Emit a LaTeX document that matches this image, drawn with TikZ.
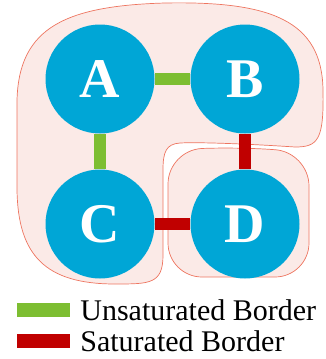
\documentclass[tikz,border=0pt]{standalone}
\usepackage{fontspec}
\setmainfont{Liberation Serif}
\usepackage{xcolor}
\usepackage{tikz}
\usetikzlibrary{positioning}

\definecolor{vertexblue}{HTML}{00A6D6}
\definecolor{unsatgreen}{HTML}{7DBE32}
\definecolor{satred}{HTML}{C00000}
\definecolor{regionfill}{HTML}{FBEAE7}
\definecolor{regionline}{HTML}{EE7560}

\begin{document}
\begin{tikzpicture}[x=1pt, y=-1pt, node distance=145pt]
    % Define styles
    \tikzstyle{vertex} = [circle, minimum size=109pt, inner sep=0pt, fill=vertexblue, text=white, font=\fontsize{56}{56}\selectfont\bfseries]
    \tikzstyle{region} = [fill=regionfill, draw=regionline, line width=0.7pt]
    \tikzstyle{unsat} = [line width=12pt, draw=unsatgreen]
    \tikzstyle{sat} = [line width=12pt, draw=satred]
    \tikzstyle{keybar} = [rectangle, minimum width=53pt, minimum height=14pt, inner sep=0pt]
    \tikzstyle{keytext} = [anchor=west, inner sep=0pt, font=\fontsize{30}{30}\selectfont]

    \useasboundingbox (0,0) rectangle (326,359);

    % Regions
    \draw [region] (17,110) .. controls (15,30) and (60,6) .. (165,3)
        .. controls (270,1) and (322,20) .. (323,90)
        .. controls (324,140) and (318,147) .. (295,147)
        .. controls (250,144) and (200,142) .. (180,143)
        .. controls (166,144) and (163,152) .. (163,170)
        -- (163,255) .. controls (163,284) and (150,284) .. (115,284)
        .. controls (45,284) and (18,255) .. (17,190) -- cycle;
    \draw [region, rounded corners=34pt] (168,150) -- (235,147) -- (309,152) -- (309,277) -- (168,277) -- cycle;

    % Nodes
    \node (A) [vertex] at (100,79) {A};
    \node (B) [vertex, right of=A] {B};
    \node (C) [vertex, below of=A] {C};
    \node (D) [vertex, right of=C] {D};

    % Borders
    \draw [unsat] (A) -- (B);
    \draw [unsat] (A) -- (C);
    \draw [sat] (B) -- (D);
    \draw [sat] (C) -- (D);

    % Legend
    \node (unsatkey) [keybar, fill=unsatgreen] at (43.5,310) {};
    \node (satkey) [keybar, fill=satred] at (43.5,341) {};
    \node (unsatlabel) [keytext, right=10pt of unsatkey] {Unsaturated Border};
    \node (satlabel) [keytext, right=10pt of satkey] {Saturated Border};
\end{tikzpicture}
\end{document}
